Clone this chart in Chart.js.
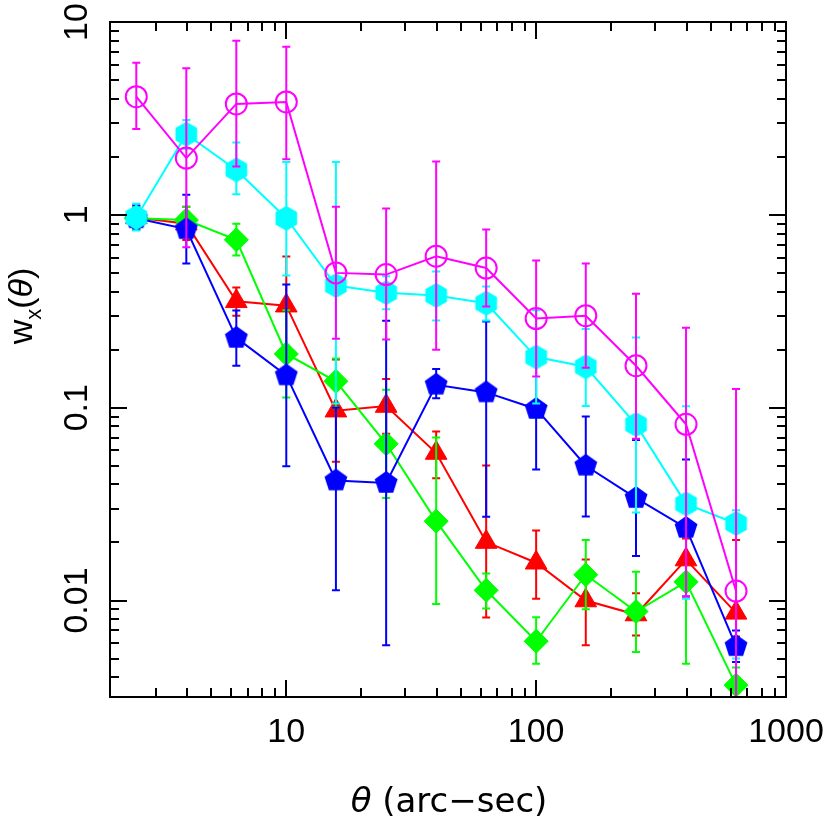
<!DOCTYPE html>
<html>
<head>
<meta charset="utf-8">
<script src="https://cdn.jsdelivr.net/npm/chart.js@4.4.0/dist/chart.umd.min.js"></script>
<style>
html, body { margin: 0; padding: 0; background: #fff; }
canvas { display: block; }
</style>
</head>
<body>
<canvas id="wtheta" width="830" height="824"></canvas>
<script>
// angular bins (arc-sec)
var theta = [2.51, 3.98, 6.31, 10, 15.8, 25.1, 39.8, 63.1, 100, 158, 251, 398, 631];

// magenta, open circles
var magW  = [4.1, 1.97, 3.76, 3.85, 0.50, 0.49, 0.61, 0.53, 0.29, 0.30, 0.165, 0.082, 0.0112];
var magHi = [6.15, 5.75, 8.0, 7.45, 1.10, 1.08, 1.89, 0.84, 0.58, 0.56, 0.39, 0.26, 0.125];
var magLo = [2.79, 0.68, 1.78, 1.94, 0.228, 0.226, 0.20, 0.335, 0.145, 0.161, 0.069, 0.0105, 0.001];

// cyan, hexagons
var cyaW  = [0.97, 2.62, 1.71, 0.96, 0.43, 0.395, 0.382, 0.348, 0.183, 0.163, 0.0817, 0.0317, 0.0251];
var cyaHi = [1.14, 3.10, 2.37, 1.88, 1.88, 0.48, 0.508, 0.425, 0.32, 0.256, 0.231, 0.1016, 0.0294];
var cyaLo = [0.83, 2.2, 1.28, 0.485, 0.105, 0.324, 0.283, 0.283, 0.105, 0.102, 0.0286, 0.0102, 0.005];

// blue, pentagons
var bluW  = [0.96, 0.843, 0.23, 0.147, 0.0419, 0.0407, 0.1315, 0.12, 0.0985, 0.05, 0.034, 0.0238, 0.0058];
var bluHi = [1.12, 1.27, 0.319, 0.435, 0.1, 0.282, 0.1586, 0.28, 0.19, 0.0901, 0.068, 0.0538, 0.007];
var bluLo = [0.84, 0.56, 0.165, 0.0497, 0.0113, 0.00586, 0.112, 0.0272, 0.0478, 0.0273, 0.017, 0.0105, 0.0048];

// green, diamonds
var grnW  = [0.96, 0.94, 0.742, 0.19, 0.137, 0.065, 0.0258, 0.0113, 0.00615, 0.0136, 0.00877, 0.0125, 0.00364];
var grnHi = [1.1, 1.10, 0.90, 0.32, 0.18, 0.124, 0.070, 0.0138, 0.00818, 0.0206, 0.0141, 0.033, 0.0045];
var grnLo = [0.84, 0.8, 0.615, 0.113, 0.10, 0.034, 0.0096, 0.0091, 0.0047, 0.009, 0.0054, 0.0047, 0.003];

// red, triangles
var redW  = [0.97, 0.9, 0.356, 0.338, 0.0965, 0.102, 0.0582, 0.0201, 0.0157, 0.01, 0.00846, 0.0163, 0.00863];
var redHi = [1.1, 1.1, 0.42, 0.608, 0.1775, 0.141, 0.0753, 0.0501, 0.0231, 0.0163, 0.0109, 0.021, 0.0206];
var redLo = [0.85, 0.74, 0.3, 0.188, 0.0524, 0.0732, 0.043, 0.00816, 0.0102, 0.00587, 0.00659, 0.0125, 0.0065];

var xTickLabels = ['10', '100', '1000'];
var yTickLabels = ['0.01', '0.1', '1', '10'];

function polyMarker(sides, r, color) {
    var s = Math.ceil(2 * r + 4);
    var c = document.createElement('canvas');
    c.width = s; c.height = s;
    var g = c.getContext('2d');
    g.fillStyle = color;
    g.beginPath();
    for (var i = 0; i < sides; i++) {
        var a = i * 2 * Math.PI / sides;
        var px = s / 2 + r * Math.sin(a), py = s / 2 - r * Math.cos(a);
        if (i === 0) g.moveTo(px, py); else g.lineTo(px, py);
    }
    g.closePath();
    g.fill();
    return c;
}

function pts(w) {
    return theta.map(function (t, i) { return {x: t, y: w[i]}; });
}

var errorBars = {
    id: 'errorBars',
    afterDatasetDraw: function (chart, args) {
        var ds = chart.data.datasets[args.index];
        if (!ds.errHi) return;
        var ctx = chart.ctx, xs = chart.scales.x, ys = chart.scales.y, a = chart.chartArea;
        ctx.save();
        ctx.beginPath();
        ctx.rect(a.left, a.top, a.right - a.left, a.bottom - a.top);
        ctx.clip();
        ctx.strokeStyle = ds.borderColor;
        ctx.lineWidth = 2;
        for (var i = 0; i < theta.length; i++) {
            var px = xs.getPixelForValue(theta[i]);
            var hi = ys.getPixelForValue(ds.errHi[i]);
            var lo = ys.getPixelForValue(ds.errLo[i]);
            ctx.beginPath();
            ctx.moveTo(px, hi); ctx.lineTo(px, lo);
            ctx.moveTo(px - 4, hi); ctx.lineTo(px + 4, hi);
            ctx.moveTo(px - 4, lo); ctx.lineTo(px + 4, lo);
            ctx.stroke();
        }
        ctx.restore();
    }
};

function logTicks(min, max) {
    var out = [];
    for (var e = Math.floor(Math.log10(min)); e <= Math.ceil(Math.log10(max)); e++) {
        for (var m = 1; m < 10; m++) {
            var v = m * Math.pow(10, e);
            if (v > min * 1.02 && v < max * 0.98) out.push({v: v, major: m === 1});
        }
    }
    return out;
}

var frame = {
    id: 'frame',
    beforeDraw: function (chart) {
        var ctx = chart.ctx;
        ctx.save();
        ctx.fillStyle = '#fff';
        ctx.fillRect(0, 0, chart.width, chart.height);
        ctx.restore();
    },
    afterDraw: function (chart) {
        var ctx = chart.ctx, xs = chart.scales.x, ys = chart.scales.y, a = chart.chartArea;
        ctx.save();
        ctx.strokeStyle = '#000';
        ctx.lineWidth = 2;
        ctx.strokeRect(a.left, a.top, a.right - a.left, a.bottom - a.top);
        ctx.beginPath();
        logTicks(xs.min, xs.max).forEach(function (t) {
            var px = Math.round(xs.getPixelForValue(t.v)), len = t.major ? 17 : 9;
            ctx.moveTo(px, a.bottom); ctx.lineTo(px, a.bottom - len);
            ctx.moveTo(px, a.top); ctx.lineTo(px, a.top + len);
        });
        logTicks(ys.min, ys.max).forEach(function (t) {
            var py = Math.round(ys.getPixelForValue(t.v)), len = t.major ? 17 : 9;
            ctx.moveTo(a.left, py); ctx.lineTo(a.left + len, py);
            ctx.moveTo(a.right, py); ctx.lineTo(a.right - len, py);
        });
        ctx.stroke();

        ctx.fillStyle = '#000';
        ctx.font = '34px "Liberation Sans", Arial, sans-serif';
        ctx.textAlign = 'center';
        ctx.textBaseline = 'alphabetic';
        xTickLabels.forEach(function (s) {
            ctx.fillText(s, xs.getPixelForValue(parseFloat(s)), 742);
        });
        yTickLabels.forEach(function (s) {
            ctx.save();
            ctx.translate(87, ys.getPixelForValue(parseFloat(s)));
            ctx.rotate(-Math.PI / 2);
            ctx.fillText(s, 0, 0);
            ctx.restore();
        });

        // x title
        var f1 = 'italic 34px "DejaVu Sans", sans-serif';
        var f2 = '34px "DejaVu Sans", sans-serif';
        ctx.textAlign = 'left';
        ctx.font = f1;
        var w1 = ctx.measureText('\u03b8').width;
        ctx.font = f2;
        var w2 = ctx.measureText(' (arc\u2212sec)').width;
        var x0 = 449 - (w1 + w2) / 2;
        ctx.font = f1;
        ctx.fillText('\u03b8', x0, 812);
        ctx.font = f2;
        ctx.fillText(' (arc\u2212sec)', x0 + w1, 812);

        // y title
        ctx.save();
        ctx.translate(32, 306);
        ctx.rotate(-Math.PI / 2);
        ctx.font = '34px "Liberation Sans", Arial, sans-serif';
        var ww = ctx.measureText('w').width;
        ctx.font = '22px "Liberation Sans", Arial, sans-serif';
        var wx = ctx.measureText('x').width;
        ctx.font = '34px "Liberation Sans", Arial, sans-serif';
        var wp1 = ctx.measureText('(').width;
        ctx.font = 'italic 34px "Liberation Sans", Arial, sans-serif';
        var wt = ctx.measureText('\u03b8').width;
        ctx.font = '34px "Liberation Sans", Arial, sans-serif';
        var wp2 = ctx.measureText(')').width;
        var x = -(ww + wx + wp1 + wt + wp2) / 2;
        ctx.fillText('w', x, 0); x += ww;
        ctx.font = '22px "Liberation Sans", Arial, sans-serif';
        ctx.fillText('x', x, 9); x += wx;
        ctx.font = '34px "Liberation Sans", Arial, sans-serif';
        ctx.fillText('(', x, 0); x += wp1;
        ctx.font = 'italic 34px "Liberation Sans", Arial, sans-serif';
        ctx.fillText('\u03b8', x, 0); x += wt;
        ctx.font = '34px "Liberation Sans", Arial, sans-serif';
        ctx.fillText(')', x, 0);
        ctx.restore();
        ctx.restore();
    }
};

var hexagon = polyMarker(6, 12.5, '#00ffff');
var pentagon = polyMarker(5, 12, '#0000ff');

new Chart(document.getElementById('wtheta').getContext('2d'), {
    type: 'scatter',
    data: {
        datasets: [
            {
                data: pts(magW), errHi: magHi, errLo: magLo,
                borderColor: '#ff00ff', borderWidth: 2, showLine: true,
                pointStyle: 'circle', pointRadius: 10.5, pointBorderWidth: 2,
                pointBorderColor: '#ff00ff', pointBackgroundColor: 'rgba(0,0,0,0)'
            },
            {
                data: pts(cyaW), errHi: cyaHi, errLo: cyaLo,
                borderColor: '#00ffff', borderWidth: 2, showLine: true,
                pointStyle: hexagon, pointRadius: 12
            },
            {
                data: pts(bluW), errHi: bluHi, errLo: bluLo,
                borderColor: '#0000ff', borderWidth: 2, showLine: true,
                pointStyle: pentagon, pointRadius: 12
            },
            {
                data: pts(grnW), errHi: grnHi, errLo: grnLo,
                borderColor: '#00ff00', borderWidth: 2, showLine: true,
                pointStyle: 'rectRot', pointRadius: 12, pointBorderWidth: 1,
                pointBorderColor: '#00ff00', pointBackgroundColor: '#00ff00'
            },
            {
                data: pts(redW), errHi: redHi, errLo: redLo,
                borderColor: '#ff0000', borderWidth: 2, showLine: true,
                pointStyle: 'triangle', pointRadius: 12.5, pointBorderWidth: 1,
                pointBorderColor: '#ff0000', pointBackgroundColor: '#ff0000'
            }
        ]
    },
    options: {
        responsive: false,
        animation: false,
        layout: { padding: { left: 110, right: 44, top: 22, bottom: 127 } },
        scales: {
            x: { type: 'logarithmic', display: false, min: 1.97, max: 1000 },
            y: { type: 'logarithmic', display: false, min: 0.00316, max: 10 }
        },
        plugins: {
            legend: { display: false },
            tooltip: { enabled: false }
        }
    },
    plugins: [errorBars, frame]
});
</script>
</body>
</html>
